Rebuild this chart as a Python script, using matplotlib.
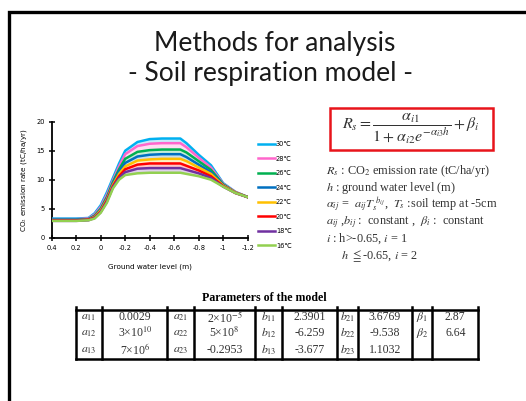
import matplotlib
matplotlib.use("Agg")
import matplotlib.pyplot as plt
from matplotlib.patches import Rectangle
from matplotlib.lines import Line2D

W, H = 526, 401
plt.rcParams['mathtext.fontset'] = 'stix'

# groundwater level (m) and CO2 emission rate (tC/ha/yr) per soil temperature
water_level = [0.4, 0.3, 0.2, 0.1, 0.05, 0, -0.05, -0.1, -0.15, -0.2, -0.3, -0.4,
               -0.5, -0.6, -0.65, -0.7, -0.8, -0.9, -1.0, -1.1, -1.2]
temps = ["30℃", "28℃", "26℃", "24℃", "22℃", "20℃", "18℃", "16℃"]
colors = ["#00B0F0", "#FF66CC", "#00B050", "#0070C0", "#FFC000", "#FF0000", "#7030A0", "#92D050"]
rates = [
    [3.3, 3.3, 3.3, 3.4, 4.2, 5.6, 7.8, 10.3, 12.8, 15.0, 16.5, 17.0, 17.1, 17.1, 17.1, 16.3, 14.3, 12.5, 9.4, 7.9, 7.0],
    [3.2, 3.2, 3.2, 3.3, 4.0, 5.3, 7.4, 9.9, 12.3, 14.4, 15.8, 16.2, 16.3, 16.3, 16.3, 15.6, 13.8, 12.1, 9.3, 7.9, 7.0],
    [3.1, 3.1, 3.1, 3.2, 3.8, 5.0, 7.0, 9.6, 11.8, 13.6, 14.8, 15.1, 15.2, 15.2, 15.2, 14.7, 13.2, 11.7, 9.2, 7.8, 7.0],
    [3.1, 3.1, 3.1, 3.2, 3.7, 4.8, 6.8, 9.3, 11.4, 12.9, 14.0, 14.3, 14.4, 14.4, 14.4, 13.9, 12.6, 11.3, 9.1, 7.8, 7.0],
    [3.0, 3.0, 3.0, 3.1, 3.6, 4.7, 6.6, 9.1, 11.0, 12.3, 13.3, 13.5, 13.6, 13.6, 13.6, 13.2, 12.1, 11.0, 9.0, 7.8, 7.0],
    [3.0, 3.0, 3.0, 3.1, 3.5, 4.5, 6.4, 8.9, 10.6, 11.8, 12.6, 12.8, 12.8, 12.8, 12.8, 12.4, 11.6, 10.6, 8.9, 7.7, 7.0],
    [2.9, 2.9, 2.9, 3.0, 3.4, 4.4, 6.2, 8.7, 10.3, 11.3, 11.9, 12.0, 12.0, 12.0, 12.0, 11.7, 11.1, 10.3, 8.8, 7.7, 7.0],
    [2.9, 2.9, 2.9, 3.0, 3.3, 4.3, 6.0, 8.5, 10.0, 10.8, 11.1, 11.2, 11.2, 11.2, 11.2, 11.0, 10.6, 10.0, 8.8, 7.7, 7.0],
]
x_ticks = [0.4, 0.2, 0, -0.2, -0.4, -0.6, -0.8, -1, -1.2]
x_ticklabels = ["0.4", "0.2", "0", "-0.2", "-0.4", "-0.6", "-0.8", "-1", "-1.2"]
y_ticks = [0, 5, 10, 15, 20]

# model parameter table
param_names = [[r"$a_{11}$", r"$a_{12}$", r"$a_{13}$"],
               [r"$a_{21}$", r"$a_{22}$", r"$a_{23}$"],
               [r"$b_{11}$", r"$b_{12}$", r"$b_{13}$"],
               [r"$b_{21}$", r"$b_{22}$", r"$b_{23}$"],
               [r"$\beta_1$", r"$\beta_2$", ""]]
param_values = [["0.0029", r"3×10$^{10}$", r"7×10$^{6}$"],
                [r"2×10$^{-5}$", r"5×10$^{8}$", "-0.2953"],
                ["2.3901", "-6.259", "-3.677"],
                ["3.6769", "-9.538", "1.1032"],
                ["2.87", "6.64", ""]]
col_edges = [75.7, 102.3, 167.3, 194, 255, 282.3, 336.7, 358.3, 411.7, 432.3, 478.3]


def fx(x):
    return x / W


def fy(y):
    return 1 - y / H


fig = plt.figure(figsize=(W / 100, H / 100), dpi=100)
fig.patch.set_facecolor("white")

# slide border
fig.patches.append(Rectangle((fx(9.5), fy(600)), fx(600), fy(11.5) - fy(600), transform=fig.transFigure,
                             fill=False, lw=2.4, ec="black"))

fig.text(fx(275), fy(44), "Methods for analysis", ha="center", va="center",
         fontsize=19, family="Lato", color="#1a1a1a")
fig.text(fx(270), fy(74), "- Soil respiration model -", ha="center", va="center",
         fontsize=19, family="Lato", color="#1a1a1a")

# chart
ax = fig.add_axes([fx(51.7), fy(237.7), fx(247.7) - fx(51.7), fy(121.7) - fy(237.7)])
for k, (vals, c, t) in enumerate(zip(rates, colors, temps)):
    ax.plot(water_level, vals, color=c, lw=1.8, label=t, zorder=3)
    if k + 1 < len(rates):
        ax.fill_between(water_level, rates[k + 1], vals, color=c, alpha=0.22, lw=0, zorder=2)
ax.set_xlim(0.4, -1.2)
ax.set_ylim(0, 20)
ax.set_xticks(x_ticks)
ax.set_xticklabels(x_ticklabels)
ax.set_yticks(y_ticks)
for s in ["top", "right"]:
    ax.spines[s].set_visible(False)
for s in ["left", "bottom"]:
    ax.spines[s].set_linewidth(1.3)
ax.tick_params(direction="inout", length=4, width=1.1, labelsize=4.8, pad=3)
ax.set_xlabel("Ground water level (m)", fontsize=5.2, labelpad=9)
ax.set_ylabel("CO$_2$ emission rate (tC/ha/yr)", fontsize=5.2, labelpad=5)
fig.legend(loc="upper left", bbox_to_anchor=(fx(258), fy(141)), frameon=False, fontsize=4.8,
           handlelength=2.6, handletextpad=0.1, labelspacing=1.28, borderpad=0, borderaxespad=0)

# equation box
fig.patches.append(Rectangle((fx(330), fy(150)), fx(163), fy(108) - fy(150), transform=fig.transFigure,
                             fill=False, lw=1.8, ec="#E8141B"))
fig.text(fx(411), fy(129), r"$R_s = \dfrac{\alpha_{i1}}{1+\alpha_{i2}e^{-\alpha_{i3}h}} + \beta_i$",
         ha="center", va="center", fontsize=11.5, color="#333333")

lines = [r"$R_s$ : CO$_2$ emission rate (tC/ha/yr)",
         r"$h$ : ground water level (m)",
         r"$\alpha_{ij}$ =  $a_{ij}T_s^{\ b_{ij}}$,  $T_s$ :soil temp at -5cm",
         r"$a_{ij}$ ,$b_{ij}$ :  constant ,  $\beta_i$ :  constant",
         r"$i$ : h>-0.65, $i$ = 1",
         r"     $h$ $\leqq$-0.65, $i$ = 2"]
for k, ln in enumerate(lines):
    fig.text(fx(326), fy(171 + 17 * k), ln, ha="left", va="center", fontsize=8.8,
             family="Liberation Serif", color="#333333")

# parameter table
fig.text(fx(264), fy(298), "Parameters of the model", ha="center", va="center", fontsize=8.6,
         family="Liberation Serif", fontweight="bold")
top, bot = 310, 359
fig.lines.append(Line2D([fx(col_edges[0]), fx(col_edges[-1])], [fy(top), fy(top)], transform=fig.transFigure,
                        color="black", lw=1.8))
fig.lines.append(Line2D([fx(col_edges[0]), fx(col_edges[-1])], [fy(bot), fy(bot)], transform=fig.transFigure,
                        color="black", lw=1.8))
for xe in col_edges:
    fig.lines.append(Line2D([fx(xe), fx(xe)], [fy(306.5), fy(bot)], transform=fig.transFigure,
                            color="black", lw=1.8))
row_y = [317, 333, 350]
for i in range(5):
    xl = (col_edges[2 * i] + col_edges[2 * i + 1]) / 2
    xv = (col_edges[2 * i + 1] + col_edges[2 * i + 2]) / 2
    for r in range(3):
        fig.text(fx(xl), fy(row_y[r]), param_names[i][r], ha="center", va="center", fontsize=8.5,
                 family="Liberation Serif", color="#333333")
        fig.text(fx(xv), fy(row_y[r]), param_values[i][r], ha="center", va="center", fontsize=8.5,
                 family="Liberation Serif", color="#333333")

fig.savefig("out.png", dpi=100)
